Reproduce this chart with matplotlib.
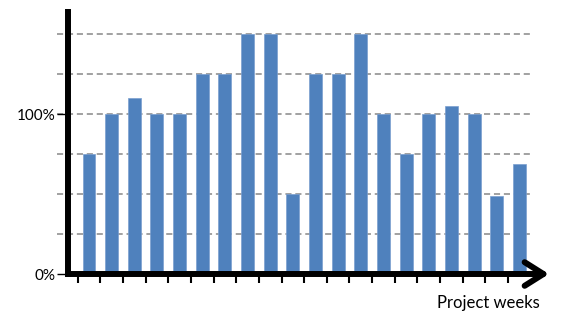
import matplotlib.pyplot as plt
import numpy as np

# utilisation per project week, in percent
weeks = np.arange(20)
load = [75, 100, 110, 100, 100, 125, 125, 150, 150, 50,
        125, 125, 150, 100, 75, 100, 105, 100, 49, 69]
grid_levels = [25, 50, 75, 100, 125, 150]
ytick_vals = [0, 100]
ytick_labels = ["0%", "100%"]

plt.rcParams['font.family'] = ['Lato', 'DejaVu Sans']

fig = plt.figure(figsize=(5.69, 3.21), dpi=100)
W, H = 569, 321
ax = fig.add_axes([68 / W, 47 / H, 462 / W, 262 / H])

ax.bar(weeks, load, width=0.57, color="#4f81bd", edgecolor="#7a9fd0",
       linewidth=0.5, zorder=3)

x0 = (68 - 89) / 22.65
x1 = (530 - 89) / 22.65
ax.set_xlim(x0, x1)
ax.set_ylim(0, (274 - 12) / 1.6)

# dashed grid, sticking out a little left of the axis
ax.hlines(grid_levels, (57 - 89) / 22.65, x1, colors="#878787",
          linestyles=(0, (4, 2.5)), linewidth=1.1, zorder=1, clip_on=False)

for s in ["top", "right", "bottom"]:
    ax.spines[s].set_visible(False)
ax.spines["left"].set_linewidth(4.3)
ax.spines["left"].set_capstyle("projecting")

ax.set_yticks(ytick_vals)
ax.set_yticklabels(ytick_labels, fontsize=11)
ax.tick_params(axis="y", direction="out", length=8, width=1, pad=1,
               colors="black")

ax.set_xticks(weeks - 0.5)
ax.set_xticklabels([])
ax.tick_params(axis="x", direction="out", length=6.5, width=1.5,
               colors="black")

# x axis with arrow head
ax.annotate("", xy=((549 - 68) / 462, 0), xytext=(0, 0),
            xycoords="axes fraction", textcoords="axes fraction",
            arrowprops=dict(arrowstyle="->,head_length=1.35,head_width=0.85",
                            lw=4.3, color="black", shrinkA=0, shrinkB=0,
                            mutation_scale=10),
            annotation_clip=False, zorder=5)

fig.text(540 / W, 1 - 303 / H, "Project weeks", ha="right", va="center",
         fontsize=12)

fig.savefig("out.png", dpi=100)
